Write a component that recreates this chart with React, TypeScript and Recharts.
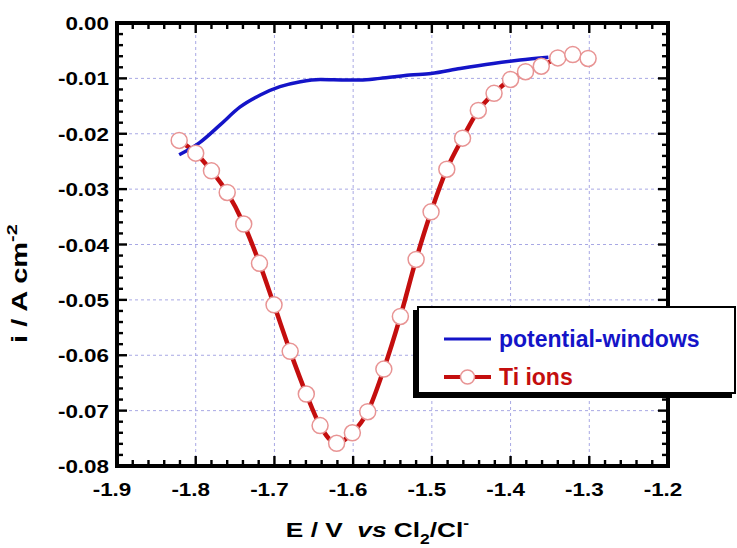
import React from 'react';
import { LineChart, Line, XAxis, YAxis, CartesianGrid, Legend, Label } from 'recharts';

// ---- data ----
const tiE = [-1.821, -1.8, -1.78, -1.76, -1.739, -1.719, -1.7005, -1.68, -1.6595, -1.642, -1.621, -1.601, -1.5815, -1.561, -1.54, -1.52, -1.501, -1.481, -1.461, -1.441, -1.421, -1.4, -1.381, -1.361, -1.34, -1.321, -1.3015];
const tiI = [-0.0212, -0.0235, -0.0267, -0.0306, -0.0363, -0.0434, -0.0509, -0.0593, -0.067, -0.0727, -0.0759, -0.074, -0.0702, -0.0625, -0.053, -0.0427, -0.0341, -0.0264, -0.0208, -0.0158, -0.0127, -0.0102, -0.0088, -0.0078, -0.0063, -0.0057, -0.0064];

const pwE = [-1.821, -1.795, -1.769, -1.744, -1.718, -1.693, -1.667, -1.642, -1.608, -1.591, -1.566, -1.528, -1.501, -1.464, -1.422, -1.388, -1.352];
const pwI = [-0.0238, -0.0216, -0.0184, -0.0152, -0.013, -0.0115, -0.0106, -0.0102, -0.0103, -0.0103, -0.01, -0.0094, -0.0091, -0.0082, -0.0073, -0.0067, -0.0062];

const xTickLabels = [-1.9, -1.8, -1.7, -1.6, -1.5, -1.4, -1.3, -1.2];
const yTickLabels = [0, -0.01, -0.02, -0.03, -0.04, -0.05, -0.06, -0.07, -0.08];

const seriesNames = ['potential-windows', 'Ti ions'];

const tiData = tiE.map((x, i) => ({ x, y: tiI[i] }));
const pwData = pwE.map((x, i) => ({ x, y: pwI[i] }));

// minor tick positions (axis decoration)
const xAllTicks: number[] = [];
for (let i = 0; i <= 35; i++) xAllTicks.push(Math.round((-1.9 + i * 0.02) * 1000) / 1000);
const yAllTicks: number[] = [];
for (let i = 0; i <= 40; i++) yAllTicks.push(Math.round((-0.08 + i * 0.002) * 10000) / 10000);

const isMajorX = (v: number) => xTickLabels.some((t) => Math.abs(t - v) < 1e-6);
const isMajorY = (v: number) => yTickLabels.some((t) => Math.abs(t - v) < 1e-7);

// layout constants
const CHART_W = 737;
const CHART_H = 548;
const MARGIN = { top: 23, right: 69, bottom: 0, left: 0 };
const X_AXIS_H = 82;
const Y_AXIS_W = 117;
const PLOT_W = CHART_W - MARGIN.left - MARGIN.right - Y_AXIS_W; // 551
const PLOT_H = CHART_H - MARGIN.top - MARGIN.bottom - X_AXIS_H; // 443
const FRAME = 4;
const TICK_W = 2.4;
const MAJOR_LEN = 10;
const MINOR_LEN = 6;

const FONT = '"Liberation Sans", Arial, sans-serif';
const BLUE = '#1414c8';
const RED = '#c40e0e';
const MARKER = '#e89494';

const BottomTick = (props: any) => {
  const { x, y, payload, index } = props;
  const v = payload.value;
  const major = isMajorX(v);
  const len = major ? MAJOR_LEN : MINOR_LEN;
  return (
    <g>
      {index === 0 && (
        <rect x={x - FRAME / 2} y={y - PLOT_H - FRAME / 2} width={PLOT_W + FRAME} height={FRAME} fill="#000" />
      )}
      <rect x={x - TICK_W / 2} y={y - len} width={TICK_W} height={len} fill="#000" />
      <rect x={x - TICK_W / 2} y={y - PLOT_H} width={TICK_W} height={len} fill="#000" />
      {major && (
        <text
          transform={`translate(${x - 5},${y + 30}) scale(1.18,1)`}
          textAnchor="middle"
          fontFamily={FONT}
          fontWeight="bold"
          fontSize={19}
          fill="#000"
        >
          {v.toFixed(1)}
        </text>
      )}
    </g>
  );
};

const LeftTick = (props: any) => {
  const { x, y, payload, index } = props;
  const v = payload.value;
  const major = isMajorY(v);
  const len = major ? MAJOR_LEN : MINOR_LEN;
  return (
    <g>
      {index === 0 && (
        <rect x={x + PLOT_W - FRAME / 2} y={y - PLOT_H - FRAME / 2} width={FRAME} height={PLOT_H + FRAME} fill="#000" />
      )}
      <rect x={x} y={y - TICK_W / 2} width={len} height={TICK_W} fill="#000" />
      <rect x={x + PLOT_W - len} y={y - TICK_W / 2} width={len} height={TICK_W} fill="#000" />
      {major && (
        <text
          transform={`translate(${x - 8},${y + 7}) scale(1.18,1)`}
          textAnchor="end"
          fontFamily={FONT}
          fontWeight="bold"
          fontSize={19}
          fill="#000"
        >
          {v.toFixed(2)}
        </text>
      )}
    </g>
  );
};

const XTitle = (props: any) => {
  const vb = props.viewBox || { x: 117, y: 466, width: 551 };
  const cx = vb.x + vb.width / 2 - 15;
  return (
    <text
      transform={`translate(${cx},${vb.y + 71}) scale(1.25,1)`}
      textAnchor="middle"
      fontFamily={FONT}
      fontWeight="bold"
      fontSize={21}
      fill="#000"
      style={{ whiteSpace: 'pre' }}
    >
      <tspan>{'E / V  '}</tspan>
      <tspan fontStyle="italic">vs</tspan>
      <tspan>{' Cl'}</tspan>
      <tspan fontSize={14} dy={7}>2</tspan>
      <tspan dy={-7}>/Cl</tspan>
      <tspan fontSize={14} dy={-9}>-</tspan>
    </text>
  );
};

const YTitle = (props: any) => {
  const vb = props.viewBox || { x: 0, y: 23, width: 117, height: 443 };
  return (
    <text
      transform={`translate(${vb.x + 27},343) rotate(-90) scale(1.32,1)`}
      textAnchor="start"
      fontFamily={FONT}
      fontWeight="bold"
      fontSize={22}
      fill="#000"
      style={{ whiteSpace: 'pre' }}
    >
      <tspan>{'i / A cm'}</tspan>
      <tspan fontSize={15} dy={-10}>-2</tspan>
    </text>
  );
};

const legendStyle: Record<string, { color: string; marker: boolean; width: number }> = {
  'potential-windows': { color: BLUE, marker: false, width: 3 },
  'Ti ions': { color: RED, marker: true, width: 4 },
};

const renderLegend = (props: any) => {
  const payload = [...(props.payload || [])].sort(
    (a: any, b: any) => seriesNames.indexOf(a.value) - seriesNames.indexOf(b.value)
  );
  return (
    <div
      style={{
        position: 'relative',
        boxSizing: 'border-box',
        width: 319,
        height: 88,
        border: '2px solid #000',
        boxShadow: '-4px 4px 0 #000',
        background: '#fff',
      }}
    >
      {payload.map((entry: any, i: number) => {
        const st = legendStyle[entry.value] || { color: entry.color, marker: false, width: 3 };
        return (
          <div
            key={entry.value}
            style={{ position: 'absolute', left: 24, top: 14 + i * 38, height: 34, display: 'flex', alignItems: 'center' }}
          >
            <svg width={50} height={20} style={{ display: 'block' }}>
              <line x1={1} x2={48} y1={10} y2={10} stroke={st.color} strokeWidth={st.width} />
              {st.marker && <circle cx={24.5} cy={10} r={7} fill="#fff" stroke={MARKER} strokeWidth={1.5} />}
            </svg>
            <span
              style={{
                marginLeft: 6,
                fontFamily: FONT,
                fontWeight: 'bold',
                fontSize: 23,
                color: st.color,
                whiteSpace: 'nowrap',
                lineHeight: '34px',
              }}
            >
              {entry.value}
            </span>
          </div>
        );
      })}
    </div>
  );
};

const axisLineStyle = { stroke: '#000', strokeWidth: FRAME, strokeLinecap: 'square' as const };

export default function App() {
  return (
    <div style={{ position: 'absolute', left: 0, top: 0, background: '#fff' }}>
      <LineChart width={CHART_W} height={CHART_H} margin={MARGIN}>
        <CartesianGrid
          xAxisId="x"
          yAxisId="y"
          verticalValues={xTickLabels}
          horizontalValues={yTickLabels}
          stroke="#a8a8e4"
          strokeDasharray="3 3"
          strokeWidth={1}
        />
        <Legend
          layout="vertical"
          align="center"
          verticalAlign="middle"
          width={319}
          height={88}
          wrapperStyle={{ left: 417, top: 306, width: 319, height: 88 }}
          content={renderLegend}
        />
        <Line
          xAxisId="x"
          yAxisId="y"
          name="Ti ions"
          data={tiData}
          dataKey="y"
          type="monotone"
          stroke={RED}
          strokeWidth={4.5}
          dot={{ r: 8, fill: '#fff', stroke: MARKER, strokeWidth: 1.5 }}
          activeDot={false}
          isAnimationActive={false}
        />
        <Line
          xAxisId="x"
          yAxisId="y"
          name="potential-windows"
          data={pwData}
          dataKey="y"
          type="monotone"
          stroke={BLUE}
          strokeWidth={3.5}
          dot={false}
          activeDot={false}
          isAnimationActive={false}
        />
        <XAxis
          xAxisId="x"
          orientation="bottom"
          type="number"
          dataKey="x"
          domain={[-1.9, -1.2]}
          allowDataOverflow
          ticks={xAllTicks}
          interval={0}
          height={X_AXIS_H}
          tickSize={0}
          tickMargin={0}
          tickLine={false}
          axisLine={axisLineStyle}
          tick={<BottomTick />}
        >
          <Label content={<XTitle />} />
        </XAxis>
        <YAxis
          yAxisId="y"
          orientation="left"
          type="number"
          dataKey="y"
          domain={[-0.08, 0]}
          allowDataOverflow
          ticks={yAllTicks}
          interval={0}
          width={Y_AXIS_W}
          tickSize={0}
          tickMargin={0}
          tickLine={false}
          axisLine={axisLineStyle}
          tick={<LeftTick />}
        >
          <Label content={<YTitle />} />
        </YAxis>
      </LineChart>
    </div>
  );
}
